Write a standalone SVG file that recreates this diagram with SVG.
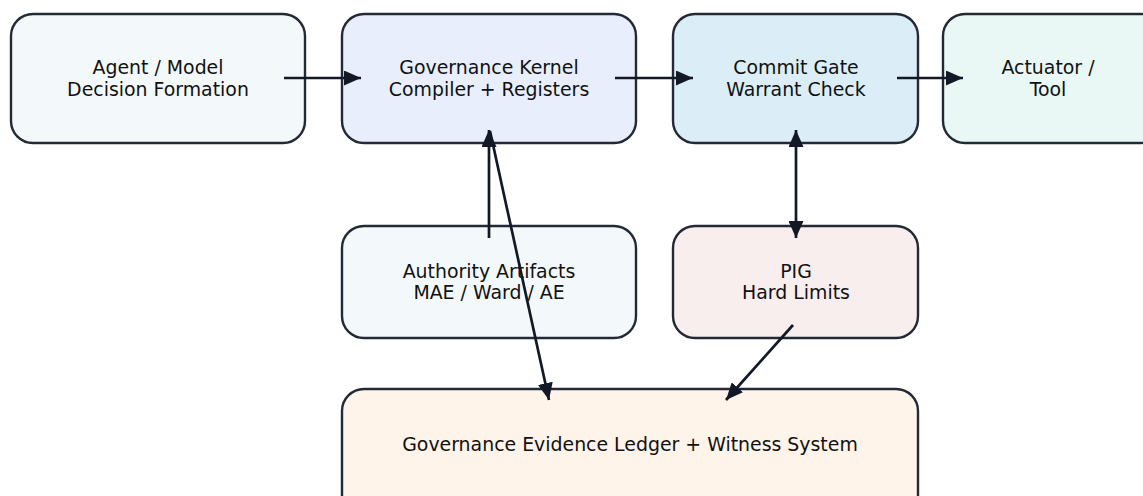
<svg xmlns="http://www.w3.org/2000/svg" width="1143" height="496" viewBox="0 0 1143 496">
  <style>
    .box { stroke: #232a36; stroke-width: 2.4; }
    .lbl { font-family: "DejaVu Sans", "Liberation Sans", sans-serif; font-size: 18.9px; fill: #111; text-anchor: middle; }
    .edge { stroke: #121826; stroke-width: 2.7; fill: none; }
  </style>
  <defs>
    <marker id="head" viewBox="0 0 17 15" refX="17" refY="7.5" markerWidth="17" markerHeight="15" markerUnits="userSpaceOnUse" orient="auto-start-reverse">
      <path d="M0,0 L17,7.5 L0,15 Z" fill="#121826"/>
    </marker>
  </defs>
  <rect width="1143" height="496" fill="#ffffff"/>

  <g id="agent">
    <rect class="box" x="11" y="14" width="294" height="129" rx="22" fill="#f3f9fa"/>
    <text class="lbl" x="158" y="74">Agent / Model</text>
    <text class="lbl" x="158" y="96">Decision Formation</text>
  </g>
  <g id="kernel">
    <rect class="box" x="342" y="14" width="294" height="129" rx="22" fill="#e8eefc"/>
    <text class="lbl" x="489" y="74">Governance Kernel</text>
    <text class="lbl" x="489" y="96">Compiler + Registers</text>
  </g>
  <g id="commit-gate">
    <rect class="box" x="673" y="14" width="245" height="129" rx="22" fill="#dbeef8"/>
    <text class="lbl" x="796" y="74">Commit Gate</text>
    <text class="lbl" x="796" y="96">Warrant Check</text>
  </g>
  <g id="actuator">
    <rect class="box" x="943" y="14" width="220" height="129" rx="22" fill="#e9f8f4"/>
    <text class="lbl" x="1048" y="74">Actuator /</text>
    <text class="lbl" x="1048" y="96">Tool</text>
  </g>
  <g id="authority">
    <rect class="box" x="342" y="226" width="294" height="112" rx="22" fill="#f3f9fa"/>
    <text class="lbl" x="489" y="278">Authority Artifacts</text>
    <text class="lbl" x="489" y="299">MAE / Ward / AE</text>
  </g>
  <g id="pig">
    <rect class="box" x="673" y="226" width="245" height="112" rx="22" fill="#f9eeee"/>
    <text class="lbl" x="796" y="278">PIG</text>
    <text class="lbl" x="796" y="299">Hard Limits</text>
  </g>
  <g id="ledger">
    <rect class="box" x="342" y="389" width="576" height="130" rx="22" fill="#fef4ea"/>
    <text class="lbl" x="630" y="451">Governance Evidence Ledger + Witness System</text>
  </g>

  <g id="connectors">
    <line class="edge" x1="284" y1="78" x2="361" y2="78" marker-end="url(#head)"/>
    <line class="edge" x1="615" y1="78" x2="693" y2="78" marker-end="url(#head)"/>
    <line class="edge" x1="897" y1="78" x2="963" y2="78" marker-end="url(#head)"/>
    <line class="edge" x1="489" y1="238" x2="489" y2="130" marker-end="url(#head)"/>
    <line class="edge" x1="490" y1="131" x2="549" y2="400" marker-end="url(#head)"/>
    <line class="edge" x1="796" y1="130" x2="796" y2="238" marker-start="url(#head)" marker-end="url(#head)"/>
    <line class="edge" x1="793" y1="325" x2="726" y2="400" marker-end="url(#head)"/>
  </g>
</svg>
